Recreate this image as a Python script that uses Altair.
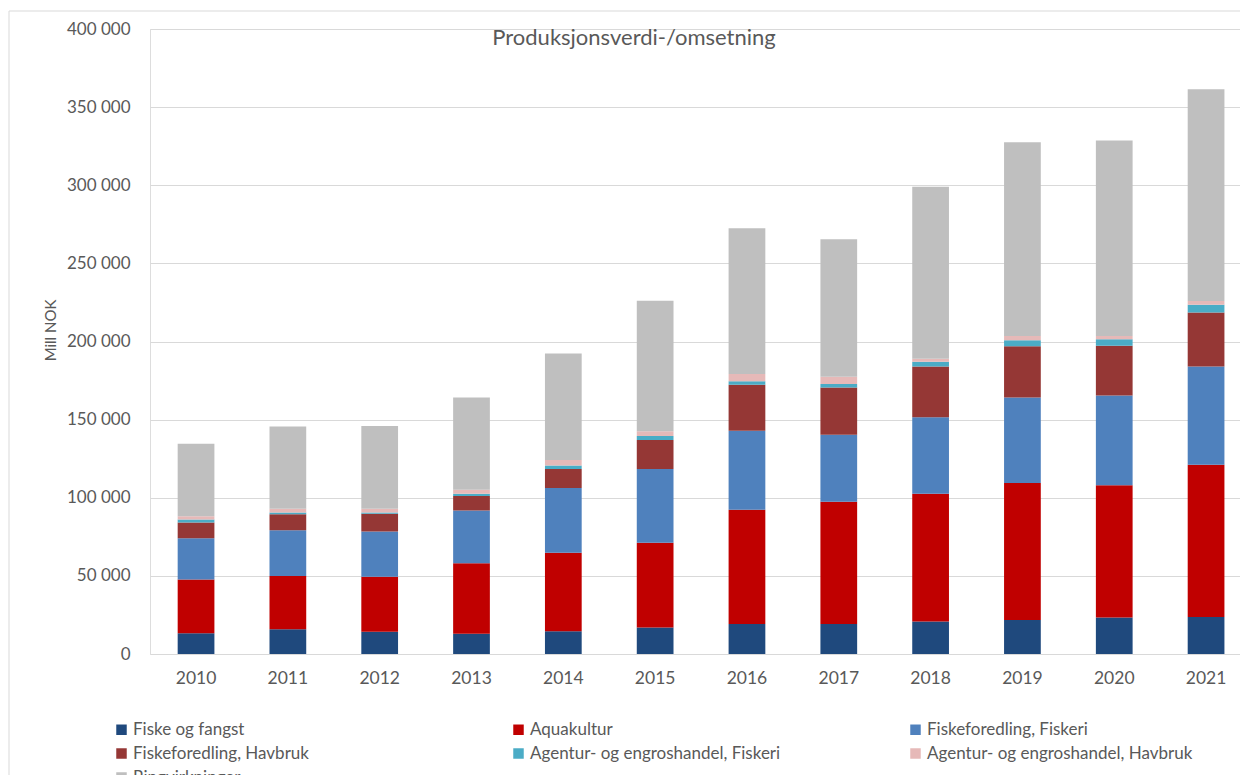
import altair as alt
import pandas as pd

years = ["2010", "2011", "2012", "2013", "2014", "2015", "2016", "2017", "2018", "2019", "2020", "2021"]
series = [
    "Fiske og fangst",
    "Aquakultur",
    "Fiskeforedling, Fiskeri",
    "Fiskeforedling, Havbruk",
    "Agentur- og engroshandel, Fiskeri",
    "Agentur- og engroshandel, Havbruk",
    "Ringvirkninger",
]
colors = ["#1F497D", "#C00000", "#4F81BD", "#953735", "#4BACC6", "#E6B9B8", "#BFBFBF"]

fiske_og_fangst = [13300, 15900, 14200, 12900, 14500, 17000, 19200, 19200, 20800, 21800, 23400, 23700]
aquakultur = [34400, 34100, 35200, 45200, 50300, 54200, 73200, 78300, 81700, 87600, 84600, 97500]
fiskeforedling_fiskeri = [26400, 29200, 29000, 33700, 41400, 47200, 50500, 42900, 49100, 54700, 57500, 62800]
fiskeforedling_havbruk = [10100, 10300, 11300, 9400, 12200, 18600, 29500, 30200, 32400, 32900, 31800, 34600]
agentur_fiskeri = [1900, 1100, 900, 1300, 2300, 2500, 2100, 2200, 3100, 3800, 4200, 4900]
agentur_havbruk = [2100, 2300, 2300, 2600, 3500, 3000, 4700, 4700, 1900, 2800, 2100, 2400]
ringvirkninger = [46300, 52700, 53100, 59000, 68200, 83600, 93300, 88000, 110100, 123900, 125100, 135500]

title_text = "Produksjonsverdi-/omsetning"
y_title = "Mill NOK"

all_values = [fiske_og_fangst, aquakultur, fiskeforedling_fiskeri, fiskeforedling_havbruk,
              agentur_fiskeri, agentur_havbruk, ringvirkninger]
rows = []
for si, (name, vals) in enumerate(zip(series, all_values)):
    for y, v in zip(years, vals):
        rows.append({"year": y, "series": name, "value": v, "order": si})
df = pd.DataFrame(rows)

FONT = "Lato"
GREY = "#595959"

bars = alt.Chart(df).mark_bar().encode(
    x=alt.X("year:O", sort=years,
            scale=alt.Scale(paddingInner=0.6, paddingOuter=0.2355, align=0.64),
            axis=alt.Axis(title=None, labelAngle=0, ticks=False, domain=False, grid=False,
                          labelFont=FONT, labelFontSize=17.5, labelColor=GREY, labelPadding=15)),
    y=alt.Y("value:Q", stack="zero",
            scale=alt.Scale(domain=[0, 400000], nice=False),
            axis=alt.Axis(title=y_title, values=list(range(0, 400001, 50000)),
                          labelExpr="replace(format(datum.value, ',d'), ',', ' ')",
                          ticks=False, domain=False, grid=True, gridColor="#D9D9D9",
                          labelFont=FONT, labelFontSize=17, labelColor=GREY, labelPadding=20,
                          titleFont=FONT, titleFontSize=15, titleFontWeight="normal",
                          titleColor=GREY, titleX=-100, titleY=301, titleAngle=-90,
                          titleAlign="center", titleBaseline="middle")),
    color=alt.Color("series:N", sort=series,
                    scale=alt.Scale(domain=series, range=colors),
                    legend=alt.Legend(title=None, orient="none", legendX=-37, legendY=692,
                                      direction="horizontal", columns=3, gridAlign="all",
                                      columnPadding=111, rowPadding=6, symbolType="square",
                                      symbolSize=110, symbolStrokeWidth=0, labelOffset=3,
                                      labelFont=FONT, labelFontSize=17, labelColor=GREY,
                                      labelLimit=400)),
    order=alt.Order("order:Q", sort="ascending"),
)

title_df = pd.DataFrame({"t": [title_text]})
title = alt.Chart(title_df).mark_text(font=FONT, fontSize=22, color=GREY, align="center",
                                      baseline="middle").encode(
    text="t:N", x=alt.value(484), y=alt.value(9))

border = alt.Chart(title_df).mark_rect(fill="transparent", stroke="#D9D9D9", strokeWidth=1).encode(
    x=alt.value(-141), x2=alt.value(1200), y=alt.value(-18), y2=alt.value(900))

chart = alt.layer(border, bars, title).properties(
    width=1090, height=625,
    autosize=alt.AutoSizeParams(type="none"),
    padding={"left": 142, "top": 21, "right": 0, "bottom": 121},
).configure_view(stroke=None).configure(background="white")

chart.save("out.html", embed_options={"renderer": "svg", "actions": False})
